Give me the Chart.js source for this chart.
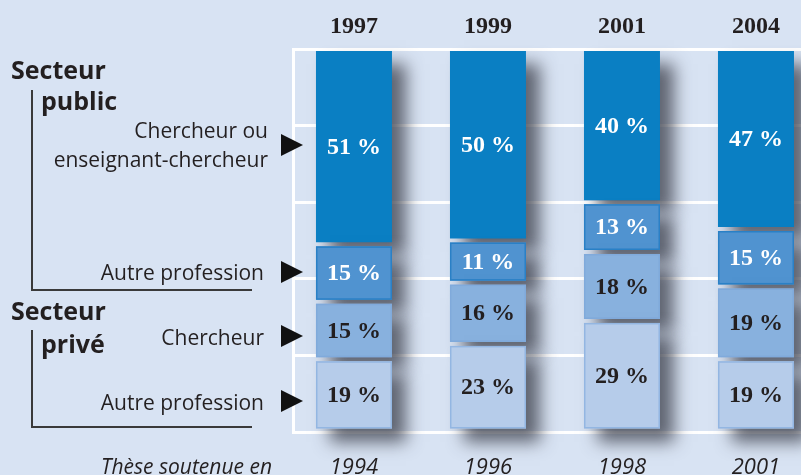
<!DOCTYPE html>
<html><head><meta charset="utf-8">
<script src="https://cdn.jsdelivr.net/npm/chart.js@4/dist/chart.umd.min.js"></script>
<style>html,body{margin:0;padding:0;background:#D8E3F3;overflow:hidden}canvas{display:block}</style>
</head><body><canvas id="c" width="801" height="475"></canvas>
<script>
// ---- data ----
const surveyYears = ['1997', '1999', '2001', '2004'];
const thesisYears = ['1994', '1996', '1998', '2001'];
const privAutre = [19, 23, 29, 19];
const privChercheur = [15, 16, 18, 19];
const pubAutre = [15, 11, 13, 15];
const pubChercheur = [51, 50, 40, 47];
const seriesNames = ['Autre profession (privé)', 'Chercheur (privé)', 'Autre profession (public)', 'Chercheur ou enseignant-chercheur'];
const yTicks = [0, 20, 40, 60, 80, 100];

const seriesValues = [privAutre, privChercheur, pubAutre, pubChercheur];
const fills = ['#B6CCEA', '#88B1DE', '#5093D0', '#0A7FC3'];
const edges = ['#93B6E2', '#80AADB', '#2A80C6', '#0A7FC3'];
const textCols = ['#231F20', '#231F20', '#FFFFFF', '#FFFFFF'];

const datasets = seriesValues.map((vals, s) => ({
  label: seriesNames[s],
  data: vals.map((v, i) => ({x: i, y: v})),
  backgroundColor: fills[s],
  borderWidth: 0,
  inflateAmount: -2,
  barThickness: 80,
  clip: false
}));

const SERIF = '"Liberation Serif", "DejaVu Serif", serif';
const SANS = '"Open Sans", "Noto Sans", sans-serif';

const deco = {
  id: 'deco',
  beforeDatasetsDraw(chart) {
    const c = chart.ctx;
    c.save();
    c.shadowColor = 'rgba(68,72,84,0.82)';
    c.shadowBlur = 16;
    c.shadowOffsetX = 14;
    c.shadowOffsetY = 13;
  },
  afterDatasetsDraw(chart) {
    const c = chart.ctx;
    c.restore();
    c.save();
    chart.data.datasets.forEach((ds, s) => {
      const meta = chart.getDatasetMeta(s);
      meta.data.forEach((el, i) => {
        const p = el.getProps(['x', 'y', 'base', 'width'], true);
        const top = Math.min(p.y, p.base) + 2, bot = Math.max(p.y, p.base) - 2;
        const l = p.x - p.width / 2 + 2, w = p.width - 4;
        if (s < 3) {
          c.strokeStyle = edges[s];
          c.lineWidth = 1.5;
          c.strokeRect(l + 0.75, top + 0.75, w - 1.5, bot - top - 1.5);
        }
        c.fillStyle = textCols[s];
        c.font = 'bold 24px ' + SERIF;
        c.textAlign = 'center';
        c.textBaseline = 'middle';
        c.fillText(seriesValues[s][i] + ' %', p.x, (top + bot) / 2 + 1);
      });
    });
    // year labels (top: survey, bottom: thesis)
    const xs = chart.scales.x;
    c.fillStyle = '#231F20';
    c.textAlign = 'center';
    c.textBaseline = 'alphabetic';
    surveyYears.forEach((t, i) => {
      c.font = 'bold 24px ' + SERIF;
      c.fillText(t, xs.getPixelForValue(i), 33);
    });
    thesisYears.forEach((t, i) => {
      c.font = 'italic 22px ' + SANS;
      c.fillText(t, xs.getPixelForValue(i), 474);
    });
    c.textAlign = 'right';
    c.font = 'italic 21px ' + SANS;
    c.fillText('Thèse soutenue en', 272, 474);

    // left annotations
    c.fillStyle = '#231F20';
    c.textAlign = 'left';
    c.font = 'bold 25px ' + SANS;
    c.fillText('Secteur', 11, 79);
    c.fillText('public', 41, 110);
    c.fillText('Secteur', 11, 320);
    c.fillText('privé', 41, 353);
    c.textAlign = 'right';
    c.font = '21px ' + SANS;
    c.fillText('Chercheur ou', 268, 138);
    c.fillText('enseignant-chercheur', 268, 167);
    c.fillText('Autre profession', 264, 280);
    c.fillText('Chercheur', 264, 345);
    c.fillText('Autre profession', 264, 410);

    c.strokeStyle = '#3A3A3A';
    c.lineWidth = 2;
    c.beginPath();
    c.moveTo(32, 90); c.lineTo(32, 290); c.lineTo(252, 290);
    c.moveTo(32, 330); c.lineTo(32, 427); c.lineTo(252, 427);
    c.stroke();

    c.fillStyle = '#111';
    [145, 272, 336, 401].forEach(y => {
      c.beginPath();
      c.moveTo(281, y - 11); c.lineTo(303, y); c.lineTo(281, y + 11);
      c.closePath(); c.fill();
    });
    c.restore();
  }
};

new Chart(document.getElementById('c'), {
  type: 'bar',
  data: {datasets},
  options: {
    responsive: false,
    animation: false,
    layout: {padding: {left: 293, top: 49, bottom: 43, right: 0}},
    plugins: {legend: {display: false}, tooltip: {enabled: false}},
    scales: {
      x: {
        type: 'linear', stacked: true, display: false, offset: false,
        min: -0.455, max: 3.336
      },
      y: {
        stacked: true, min: 0, max: 100,
        afterBuildTicks: sc => { sc.ticks = yTicks.map(v => ({value: v})); },
        ticks: {display: false},
        grid: {color: '#FFFFFF', lineWidth: 3, drawTicks: false},
        border: {display: true, color: '#FFFFFF', width: 3}
      }
    }
  },
  plugins: [deco]
});
</script>
</body></html>
